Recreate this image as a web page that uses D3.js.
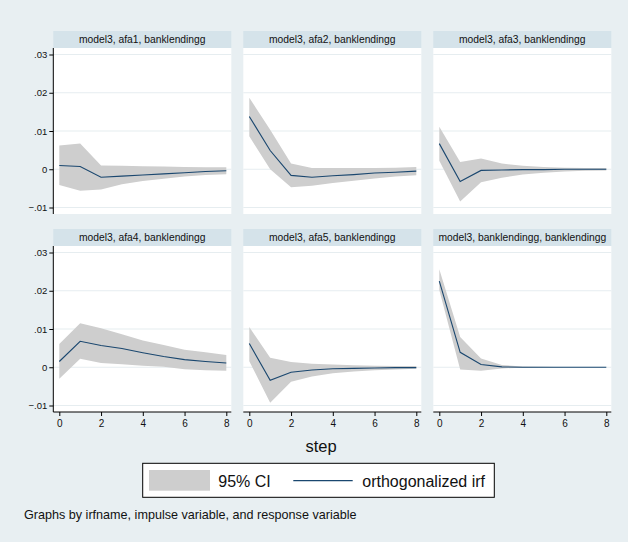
<!DOCTYPE html>
<html>
<head>
<meta charset="utf-8">
<script src="https://cdn.jsdelivr.net/npm/d3@7"></script>
<style>
  html, body { margin: 0; padding: 0; background: #e8eff2; }
  svg { display: block; font-family: "Liberation Sans", Arial, Helvetica, sans-serif; }
</style>
</head>
<body>
<svg id="chart" width="628" height="542"></svg>
<script>
// Impulse-response functions, horizon 0..8
const steps = [0, 1, 2, 3, 4, 5, 6, 7, 8];

const panelTitles = [
  "model3, afa1, banklendingg",
  "model3, afa2, banklendingg",
  "model3, afa3, banklendingg",
  "model3, afa4, banklendingg",
  "model3, afa5, banklendingg",
  "model3, banklendingg, banklendingg"
];

// orthogonalized irf and 95% confidence bounds for each impulse
const irfAfa1 = [0.0010, 0.0007, -0.0021, -0.0018, -0.0015, -0.0012, -0.0009, -0.0006, -0.0004];
const loAfa1  = [-0.0041, -0.0056, -0.0053, -0.0039, -0.0031, -0.0025, -0.0019, -0.0015, -0.0013];
const hiAfa1  = [0.0062, 0.0067, 0.0010, 0.0009, 0.0008, 0.0007, 0.0006, 0.0005, 0.0005];

const irfAfa2 = [0.0138, 0.0049, -0.0016, -0.0021, -0.0017, -0.0014, -0.0010, -0.0008, -0.0005];
const loAfa2  = [0.0086, 0.0000, -0.0047, -0.0043, -0.0036, -0.0030, -0.0024, -0.0019, -0.0016];
const hiAfa2  = [0.0187, 0.0103, 0.0015, 0.0003, 0.0003, 0.0003, 0.0003, 0.0004, 0.0006];

const irfAfa3 = [0.0067, -0.0032, -0.0003, -0.0002, -0.0001, -0.0001, 0.0000, 0.0000, 0.0000];
const loAfa3  = [0.0022, -0.0084, -0.0034, -0.0022, -0.0014, -0.0009, -0.0006, -0.0004, -0.0003];
const hiAfa3  = [0.0111, 0.0019, 0.0028, 0.0015, 0.0009, 0.0006, 0.0004, 0.0003, 0.0003];

const irfAfa4 = [0.0015, 0.0068, 0.0057, 0.0049, 0.0038, 0.0028, 0.0020, 0.0015, 0.0011];
const loAfa4  = [-0.0030, 0.0022, 0.0011, 0.0008, 0.0004, 0.0001, -0.0005, -0.0008, -0.0009];
const hiAfa4  = [0.0061, 0.0115, 0.0102, 0.0086, 0.0070, 0.0058, 0.0046, 0.0039, 0.0032];

const irfAfa5 = [0.0062, -0.0034, -0.0013, -0.0007, -0.0004, -0.0003, -0.0002, -0.0001, -0.0001];
const loAfa5  = [0.0016, -0.0093, -0.0038, -0.0024, -0.0016, -0.0011, -0.0008, -0.0006, -0.0004];
const hiAfa5  = [0.0105, 0.0025, 0.0014, 0.0009, 0.0007, 0.0005, 0.0004, 0.0003, 0.0003];

const irfBank = [0.0225, 0.0039, 0.0007, 0.0001, 0.0000, 0.0000, 0.0000, 0.0000, 0.0000];
const loBank  = [0.0202, -0.0006, -0.0009, -0.0003, -0.0001, 0.0000, 0.0000, 0.0000, 0.0000];
const hiBank  = [0.0256, 0.0079, 0.0023, 0.0006, 0.0002, 0.0001, 0.0000, 0.0000, 0.0000];

const yTicks = [-0.01, 0, 0.01, 0.02, 0.03];
const xTicks = [0, 2, 4, 6, 8];

const legendLabels = ["95% CI", "orthogonalized irf"];
const xTitle = "step";
const note = "Graphs by irfname, impulse variable, and response variable";

const panels = [
  { irf: irfAfa1, lo: loAfa1, hi: hiAfa1 },
  { irf: irfAfa2, lo: loAfa2, hi: hiAfa2 },
  { irf: irfAfa3, lo: loAfa3, hi: hiAfa3 },
  { irf: irfAfa4, lo: loAfa4, hi: hiAfa4 },
  { irf: irfAfa5, lo: loAfa5, hi: hiAfa5 },
  { irf: irfBank, lo: loBank, hi: hiBank }
].map((p, i) => Object.assign(p, { title: panelTitles[i] }));

// layout
const colLeft = [53.3, 243.3, 433.3];
const panelW = 178;
const stripTop = [31, 229];
const stripH = 17;
const plotH = 166;
const pad = 6.5;

const colors = {
  strip: "#d5e3ea",
  grid: "#e6edf0",
  ci: "#cecece",
  line: "#1a476f"
};

const svg = d3.select("#chart");
const fmt = v => v === 0 ? "0" : d3.format(".2f")(v).replace("0.", ".");

panels.forEach((p, i) => {
  const col = i % 3, row = Math.floor(i / 3);
  const x0 = colLeft[col];
  const sTop = stripTop[row];
  const pTop = sTop + stripH;
  const pBot = pTop + plotH;

  const x = d3.scaleLinear().domain([0, 8]).range([x0 + 6, x0 + panelW - 5]);
  const y = d3.scaleLinear().domain([-0.01, 0.03]).range([pBot - pad, pTop + pad]);

  const g = svg.append("g");

  // title strip
  g.append("rect").attr("x", x0).attr("y", sTop).attr("width", panelW).attr("height", stripH)
    .attr("fill", colors.strip);
  g.append("text").attr("x", x0 + panelW / 2).attr("y", sTop + stripH / 2 + 3.6)
    .attr("text-anchor", "middle").attr("font-size", 10.3).attr("fill", "#111")
    .text(p.title);

  // plot region
  g.append("rect").attr("x", x0).attr("y", pTop).attr("width", panelW).attr("height", plotH)
    .attr("fill", "#ffffff");

  // gridlines
  g.selectAll("line.grid").data(yTicks).join("line")
    .attr("class", "grid")
    .attr("x1", x0).attr("x2", x0 + panelW)
    .attr("y1", d => y(d)).attr("y2", d => y(d))
    .attr("stroke", colors.grid).attr("stroke-width", 1.2);

  // confidence band
  const area = d3.area()
    .x((d, k) => x(steps[k]))
    .y0((d, k) => y(p.lo[k]))
    .y1((d, k) => y(p.hi[k]));
  g.append("path").datum(steps).attr("d", area).attr("fill", colors.ci);

  // irf line
  const line = d3.line().x((d, k) => x(steps[k])).y(d => y(d));
  g.append("path").datum(p.irf).attr("d", line)
    .attr("fill", "none").attr("stroke", colors.line).attr("stroke-width", 1.1);

  // y axis on the left column
  if (col === 0) {
    const yAxis = d3.axisLeft(y).tickValues(yTicks).tickFormat(fmt).tickSize(4).tickPadding(2);
    const ya = g.append("g").attr("transform", `translate(${x0},0)`).call(yAxis);
    ya.select(".domain").attr("d", `M0,${pTop}V${pBot}`).attr("stroke", "#000");
    ya.selectAll(".tick line").attr("stroke", "#000");
    ya.selectAll(".tick text").attr("font-size", 9.5).attr("fill", "#111")
      .attr("font-family", "Liberation Sans, Arial, sans-serif");
  }

  // x axis on the bottom row
  if (row === 1) {
    const xAxis = d3.axisBottom(x).tickValues(xTicks).tickFormat(d3.format("d")).tickSize(4).tickPadding(4);
    const xa = g.append("g").attr("transform", `translate(0,${pBot})`).call(xAxis);
    xa.select(".domain").attr("d", `M${x0},0H${x0 + panelW}`).attr("stroke", "#000");
    xa.selectAll(".tick line").attr("stroke", "#000");
    xa.selectAll(".tick text").attr("font-size", 10).attr("fill", "#111")
      .attr("font-family", "Liberation Sans, Arial, sans-serif");
  }
});

// x title
svg.append("text").attr("x", 321).attr("y", 452).attr("text-anchor", "middle")
  .attr("font-size", 16.5).attr("fill", "#111").text(xTitle);

// legend
const lg = svg.append("g");
lg.append("rect").attr("x", 142.7).attr("y", 463.3).attr("width", 351.6).attr("height", 34)
  .attr("fill", "#ffffff").attr("stroke", "#000").attr("stroke-width", 1);
lg.append("rect").attr("x", 149).attr("y", 470).attr("width", 61).attr("height", 20.7)
  .attr("fill", colors.ci);
lg.append("text").attr("x", 218.3).attr("y", 486.5).attr("font-size", 16).attr("fill", "#111")
  .text(legendLabels[0]);
lg.append("line").attr("x1", 293.3).attr("x2", 352.7).attr("y1", 480.7).attr("y2", 480.7)
  .attr("stroke", colors.line).attr("stroke-width", 1.2);
lg.append("text").attr("x", 362.3).attr("y", 486.5).attr("font-size", 16).attr("fill", "#111")
  .text(legendLabels[1]);

// note
svg.append("text").attr("x", 24).attr("y", 519).attr("font-size", 12.6).attr("fill", "#111")
  .text(note);
</script>
</body>
</html>
